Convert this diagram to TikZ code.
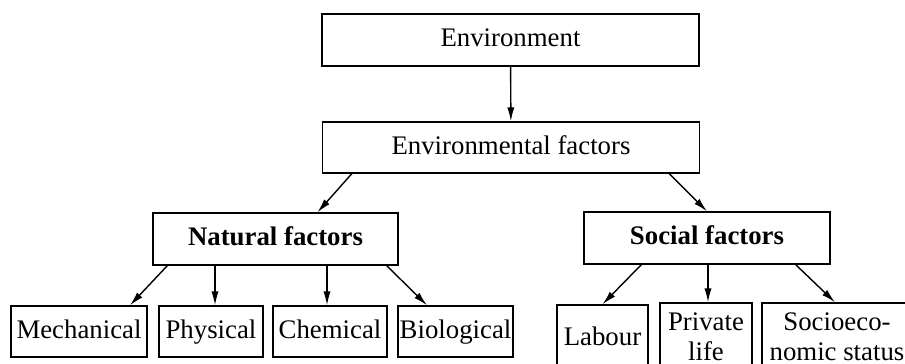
\documentclass[tikz,border=0pt]{standalone}
\usepackage{fontspec}
\setmainfont{Liberation Serif}
\usetikzlibrary{arrows.meta}

\begin{document}
\begin{tikzpicture}[x=0.5pt, y=-0.5pt, box/.style={shape=rectangle, draw, inner sep=0, align=center, text height=0.68em, text depth=0em, font=\fontsize{13.4}{15}\selectfont}, >={Latex[length=7pt,width=3.6pt]}, line width=0.7pt]
	\clip (0,0) rectangle (905,364);
	\node[box, minimum width=188.5pt, minimum height=26pt] (env) at (510.5,40) {Environment};
	\node[box, minimum width=188.5pt, minimum height=25.5pt] (envf) at (511,147.5) {Environmental factors};
	\node[box, minimum width=122.5pt, minimum height=26pt] (nat) at (275.5,239) {\textbf{Natural factors}};
	\node[box, minimum width=123pt, minimum height=26pt] (soc) at (707,238) {\textbf{Social factors}};
	% natural
	\node[box, minimum width=68pt, minimum height=25.5pt] (mech) at (79,331.5) {Mechanical};
	\node[box, minimum width=52pt, minimum height=25.5pt] (phys) at (211,331.5) {Physical};
	\node[box, minimum width=57pt, minimum height=25.5pt] (chem) at (330,331.5) {Chemical};
	\node[box, minimum width=57.5pt, minimum height=25.5pt] (bio) at (455.5,331.5) {Biological};
	% social
	\node[box, minimum width=45.5pt, minimum height=34pt] (lab) at (602.5,339) {Labour};
	\node[box, minimum width=46pt, minimum height=34pt, text height=, text depth=] (priv) at (706,337) {Private\\life};
	\node[box, minimum width=75pt, minimum height=34pt, text height=, text depth=] (ses) at (837,337) {Socioeco-\\nomic status};
	\draw[->] (env) to (envf);
	\draw[->] ([xshift=15pt]envf.south west) to ([xshift=21pt]nat.north);
	\draw[->] ([xshift=-15.5pt]envf.south east) to (soc.north);
	\draw[->] ([xshift=7.5pt]nat.south west) to ([xshift=25.5pt]mech.north);
	\draw[->] ([xshift=2pt]phys.north |- nat.south) to ([xshift=2pt]phys.north);
	\draw[->] ([xshift=-1.5pt]chem.north |- nat.south) to ([xshift=-1.5pt]chem.north);
	\draw[->] ([xshift=-6pt]nat.south east) to ([xshift=-14.25pt]bio.north);
	\draw[->] ([xshift=29pt]soc.south west) to (lab.north);
	\draw[->] ([xshift=1pt]priv.north |- soc.south) to ([xshift=1pt]priv.north);
	\draw[->] ([xshift=-17.5pt]soc.south east) to ([xshift=-1pt]ses.north);
\end{tikzpicture}
\end{document}
